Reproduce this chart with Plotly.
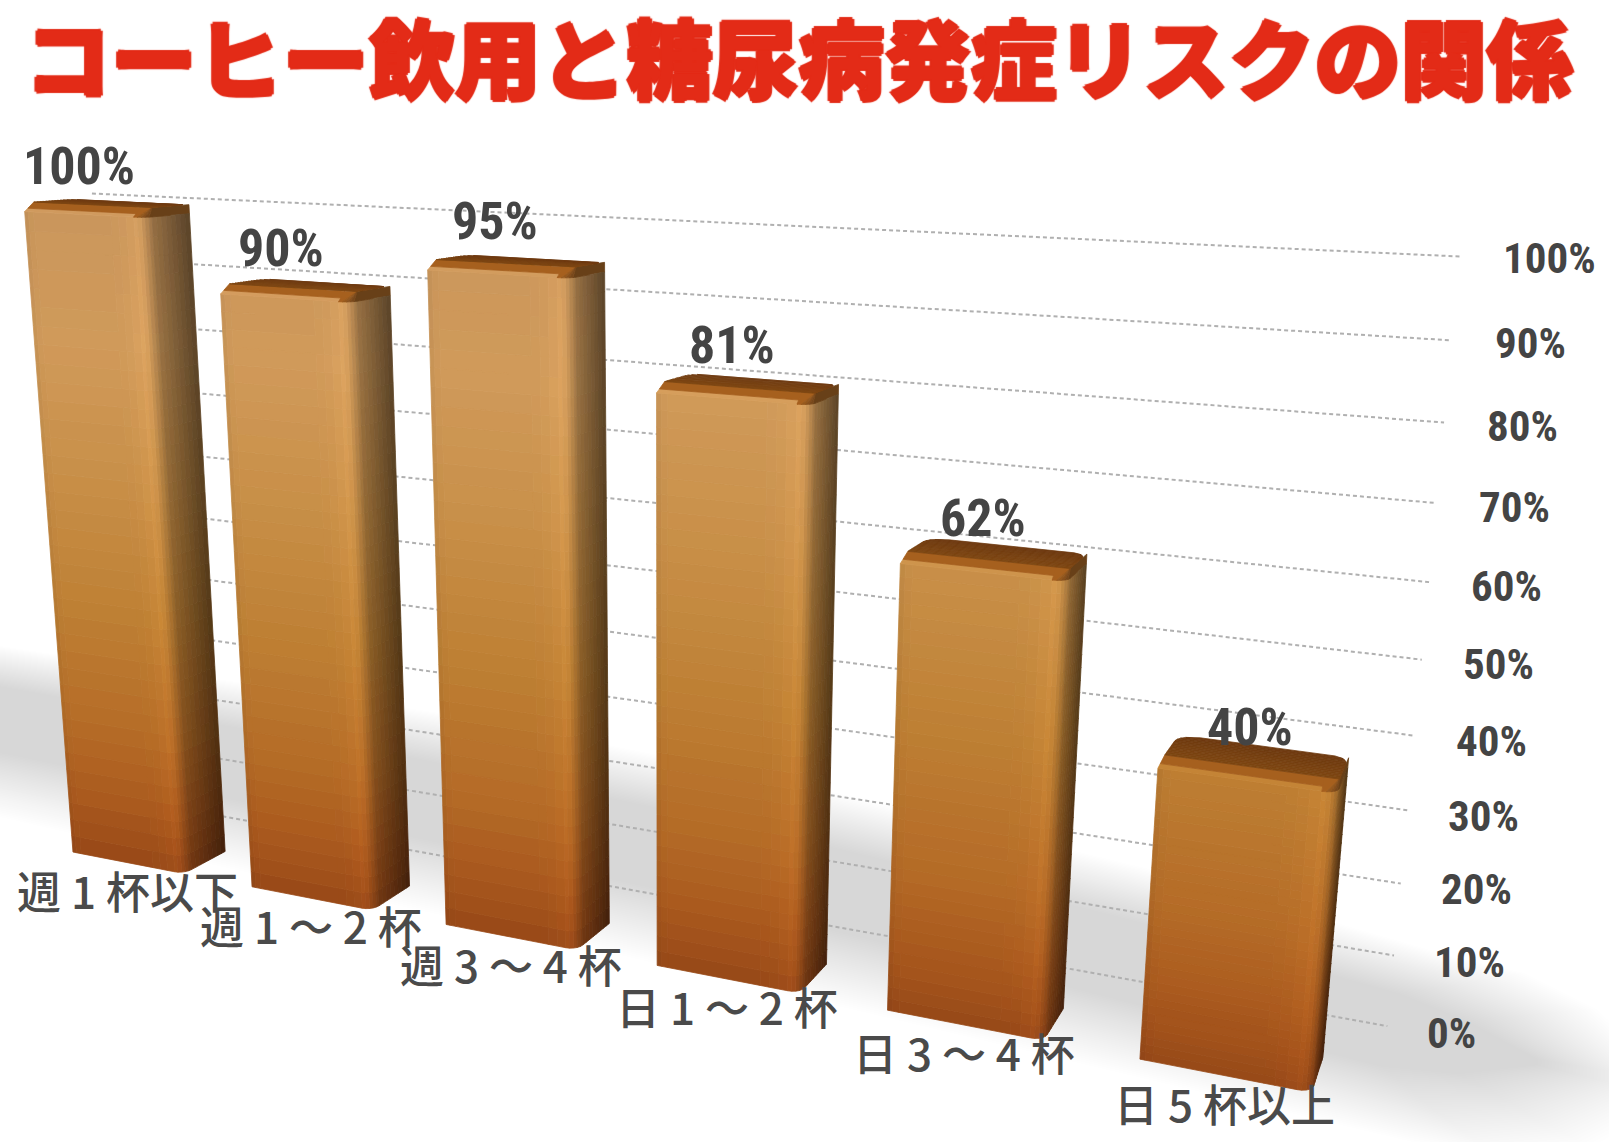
import numpy as np
import plotly.graph_objects as go

# ---------- data ----------
categories = ["週 1 杯以下", "週 1 ～ 2 杯", "週 3 ～ 4 杯", "日 1 ～ 2 杯", "日 3 ～ 4 杯", "日 5 杯以上"]
risk_values = [100, 90, 95, 81, 62, 40]
tick_values = [0, 10, 20, 30, 40, 50, 60, 70, 80, 90, 100]
tick_labels = [f"{v}%" for v in tick_values]
title_text = "コーヒー飲用と糖尿病発症リスクの関係"

# ---------- perspective axis (3D chart projected on to the 2D axes) ----------
W_PX, H_PX = 1568, 1113
F = 1954.0
CX, CY = 784.0, 556.0
ORIGIN = np.array([568.0, 444.0, 1954.0])
XW = np.array([0.9277, 0.1043, -0.3587])
YW = np.array([0.3733, -0.2160, 0.9025])
ZW = np.array([0.0166, -0.9710, -0.2392])
Z_UNIT = 7.437


def proj(w, y, val):
    c = ORIGIN + w * XW + y * YW + val * Z_UNIT * ZW
    return CX + F * c[0] / c[2], CY + F * c[1] / c[2]


BAR_W, BAR_D, BAR_Y0, BAR_R = 158.0, 80.0, -165.0, 13.0
BAR_STEP, BAR_FIRST = 251.0, -1462.0
LIP = 1.3

Z_STOPS = [0, 4, 10, 20, 40, 60, 80, 100]
Z_COLS = np.array([
    [150, 72, 24], [160, 80, 26], [170, 90, 30], [180, 106, 38],
    [190, 128, 52], [200, 143, 72], [208, 154, 90], [202, 150, 92],
], float)


def base(z):
    return np.array([np.interp(z, Z_STOPS, Z_COLS[:, k]) for k in range(3)])


def col(rgb):
    q = np.clip(np.round(np.asarray(rgb) / 2.0) * 2, 0, 255).astype(int)
    return f"rgb({q[0]},{q[1]},{q[2]})"


def add_group(fig, groups):
    for color, pts in groups.items():
        fig.add_trace(go.Scatter(
            x=[p[0] for p in pts], y=[p[1] for p in pts], mode="lines",
            fill="toself", fillcolor=color, line=dict(color=color, width=0.8),
            hoverinfo="skip", showlegend=False))


def poly(groups, color, pts):
    groups.setdefault(color, [])
    groups[color].extend(pts + [pts[0], (None, None)])


fig = go.Figure()

# ---------- floor shadow (nested translucent bands on the floor plane) ----------
SH_W = np.array([-2500.0, -1950.0, -1300.0, -800.0, -300.0, 60.0, 260.0])
SH_Y = np.array([220.0, 185.0, 165.0, 125.0, 55.0, -15.0, -25.0])
SH_H = np.array([1.5, 1.7, 1.8, 1.7, 1.5, 1.25, 1.15])
SH_R = 165.0
for s in np.linspace(1.0, 0.4, 40):
    ws = np.linspace(SH_W[0], SH_W[-1] - 200 * (1 - s), 40)
    cy = np.interp(ws, SH_W, SH_Y)
    hw = np.interp(ws, SH_W, SH_H) * SH_R * s
    taper = np.sqrt(np.clip((ws[-1] + 1 - ws) / 130.0, 0, 1))
    top = [proj(a, b + c * t, 0) for a, b, c, t in zip(ws, cy, hw, taper)]
    bot = [proj(a, b - c * t, 0) for a, b, c, t in zip(ws, cy, hw, taper)]
    xy = top + bot[::-1]
    fig.add_trace(go.Scatter(
        x=[p[0] for p in xy] + [xy[0][0]], y=[p[1] for p in xy] + [xy[0][1]], mode="lines",
        fill="toself", fillcolor="rgba(0,0,0,0.0058)", line=dict(width=0),
        hoverinfo="skip", showlegend=False))

# ---------- gridlines on the back wall ----------
for v in tick_values:
    a, b = proj(-1514, 0, v), proj(0, 0, v)
    fig.add_trace(go.Scatter(
        x=[a[0], b[0]], y=[a[1], b[1]], mode="lines",
        line=dict(color="#b0b0b0", width=2, dash="4px,3px"),
        hoverinfo="skip", showlegend=False))

# ---------- bars ----------
z_rows_frac = np.linspace(0, 1, 37)
for i, val in enumerate(risk_values):
    w0 = BAR_FIRST + BAR_STEP * i
    w1 = w0 + BAR_W
    y0, y1 = BAR_Y0, BAR_Y0 + BAR_D
    r = BAR_R
    path = [(w0, y0), (w0 + 5, y0), (w0 + 12, y0), (w1 - r - 30, y0), (w1 - r - 20, y0), (w1 - r - 10, y0), (w1 - r, y0)]
    shade = [0.96, 0.99, 1.0, 1.005, 1.015, 1.035]
    arc_pts = [(w1 - r, y0)]
    for a, s in zip(np.radians([18, 36, 54, 72, 90]), [1.06, 1.03, 0.96, 0.88, 0.80]):
        p = (w1 - r + r * np.sin(a), y0 + r - r * np.cos(a))
        path.append(p)
        arc_pts.append(p)
        shade.append(s)
    side_t = np.linspace(0.12, 1.0, 8)
    side_s = np.interp(side_t, [0, 0.5, 1.0], [0.76, 0.61, 0.46])
    for t, s in zip(side_t, side_s):
        path.append((w1, y0 + r + t * (BAR_D - 1.5 * r)))
        shade.append(s)

    groups = {}
    wall_top = val - LIP
    # walls, as a grid of small quads following the perspective
    for j in range(len(path) - 1):
        (wa, ya), (wb, yb) = path[j], path[j + 1]
        for k in range(len(z_rows_frac) - 1):
            za, zb = wall_top * z_rows_frac[k], wall_top * z_rows_frac[k + 1]
            c = base(0.5 * (za + zb)) * shade[j]
            pts = [proj(wa, ya, za), proj(wb, yb, za), proj(wb, yb, zb), proj(wa, ya, zb)]
            poly(groups, col(c), pts)

    # rounded lip between the walls and the top cap
    inset = 11.0
    lip_front = np.array([166, 96, 30])
    lip_side = np.array([104, 64, 24])
    lip_cols = [base(val) * 1.03, lip_front]
    for n, (fa, fb) in enumerate([(0.0, 0.35), (0.35, 1.0)]):
        za, zb = wall_top + LIP * fa, wall_top + LIP * fb
        ia, ib = inset * fa, inset * fb
        poly(groups, col(lip_cols[n]), [
            proj(w0 + ia * 0.3, y0 + ia, za), proj(w1 - r, y0 + ia, za),
            proj(w1 - r, y0 + ib, zb), proj(w0 + ib * 0.3, y0 + ib, zb)])
    apex = proj(w1, y0 + inset + 3, val)
    poly(groups, col(lip_front), [proj(w1 - r, y0, wall_top), apex, proj(w1 - r, y0 + inset, val)])
    for j in range(len(arc_pts) - 1):
        f = j / (len(arc_pts) - 2)
        poly(groups, col(lip_front * (1 - f) + lip_side * f), [
            proj(arc_pts[j][0], arc_pts[j][1], wall_top),
            proj(arc_pts[j + 1][0], arc_pts[j + 1][1], wall_top), apex])
    poly(groups, col(lip_side), [
        proj(w1, y0 + r, wall_top), proj(w1, y1 - r * 0.5, wall_top),
        proj(w1, y1 - r * 0.5, val), apex])

    # top cap, sliced over the depth, with rounded corners
    n_top = 14
    cap_r = 20.0
    cy0, cy1 = y0 + inset, y1 - r * 0.5
    cw0, cw1 = w0 + inset * 0.3, w1

    def back_inset(y):
        d = cy1 - y
        return 0.0 if d >= cap_r else cap_r - np.sqrt(max(cap_r ** 2 - (cap_r - d) ** 2, 0))

    for k in range(n_top):
        ya, yb = cy0 + (cy1 - cy0) * k / n_top, cy0 + (cy1 - cy0) * (k + 1) / n_top
        ia, ib = back_inset(ya), back_inset(yb)
        frac = k / (n_top - 1)
        c = np.array([126, 70, 18]) + frac * np.array([-16, -12, -2])
        pts = [proj(cw0 + ia, ya, val), proj(cw1 - ia * 0.6, ya, val),
               proj(cw1 - ib * 0.6, yb, val), proj(cw0 + ib, yb, val)]
        poly(groups, col(c), pts)
    add_group(fig, groups)

# ---------- value labels ----------
NUM_FONT = "Roboto Condensed, Roboto"
annotations = []
for i, (val, cat) in enumerate(zip(risk_values, categories)):
    w_mid = BAR_FIRST + BAR_STEP * i + BAR_W / 2
    px, py = proj(w_mid, BAR_Y0 + BAR_D / 2 - 42, val + 5.5)
    annotations.append(dict(
        x=px, y=py, xref="x", yref="y", text=f"{val}%", showarrow=False,
        xanchor="center", yanchor="middle",
        font=dict(family=NUM_FONT, size=52, color="#444444", weight="bold")))
    qx, qy = proj(w_mid, BAR_Y0, 0)
    annotations.append(dict(
        x=qx, y=qy, xref="x", yref="y", text=cat, showarrow=False, yshift=-27,
        xanchor="center", yanchor="middle",
        font=dict(family="Noto Sans CJK JP", size=44, color="#4a4a4a", weight=500)))

# ---------- value axis labels at the right of the wall ----------
for v, lab in zip(tick_values, tick_labels):
    px, py = proj(35, 0, v)
    annotations.append(dict(
        x=px, y=py, xref="x", yref="y", text=lab, showarrow=False,
        xanchor="left", yanchor="middle",
        font=dict(family=NUM_FONT, size=43, color="#444444", weight="bold")))

fig.update_layout(
    width=1609, height=1142, margin=dict(l=0, r=0, t=0, b=0, autoexpand=False),
    paper_bgcolor="white", plot_bgcolor="rgba(0,0,0,0)", showlegend=False,
    title=dict(
        text=title_text, x=0.4965, y=0.945, xref="paper", yref="paper",
        xanchor="center", yanchor="middle",
        font=dict(family="Noto Sans CJK JP", size=86, color="#e32b17", weight=900,
                  shadow="2px 0 1px #e32b17, -2px 0 1px #e32b17, 0 2px 1px #e32b17, 0 -2px 1px #e32b17")),
    xaxis=dict(range=[0, W_PX], visible=False, fixedrange=True),
    yaxis=dict(range=[H_PX, 0], visible=False, fixedrange=True),
    annotations=annotations,
)

post = """
document.body.style.margin='0';document.body.style.overflow='hidden';
var st=document.createElement('style');st.textContent='.annotation-text{font-stretch:75%;}';
document.head.appendChild(st);
Plotly.redraw(document.getElementById('{plot_id}'));
"""
fig.write_html("out.html", post_script=post, config={"displayModeBar": False})
